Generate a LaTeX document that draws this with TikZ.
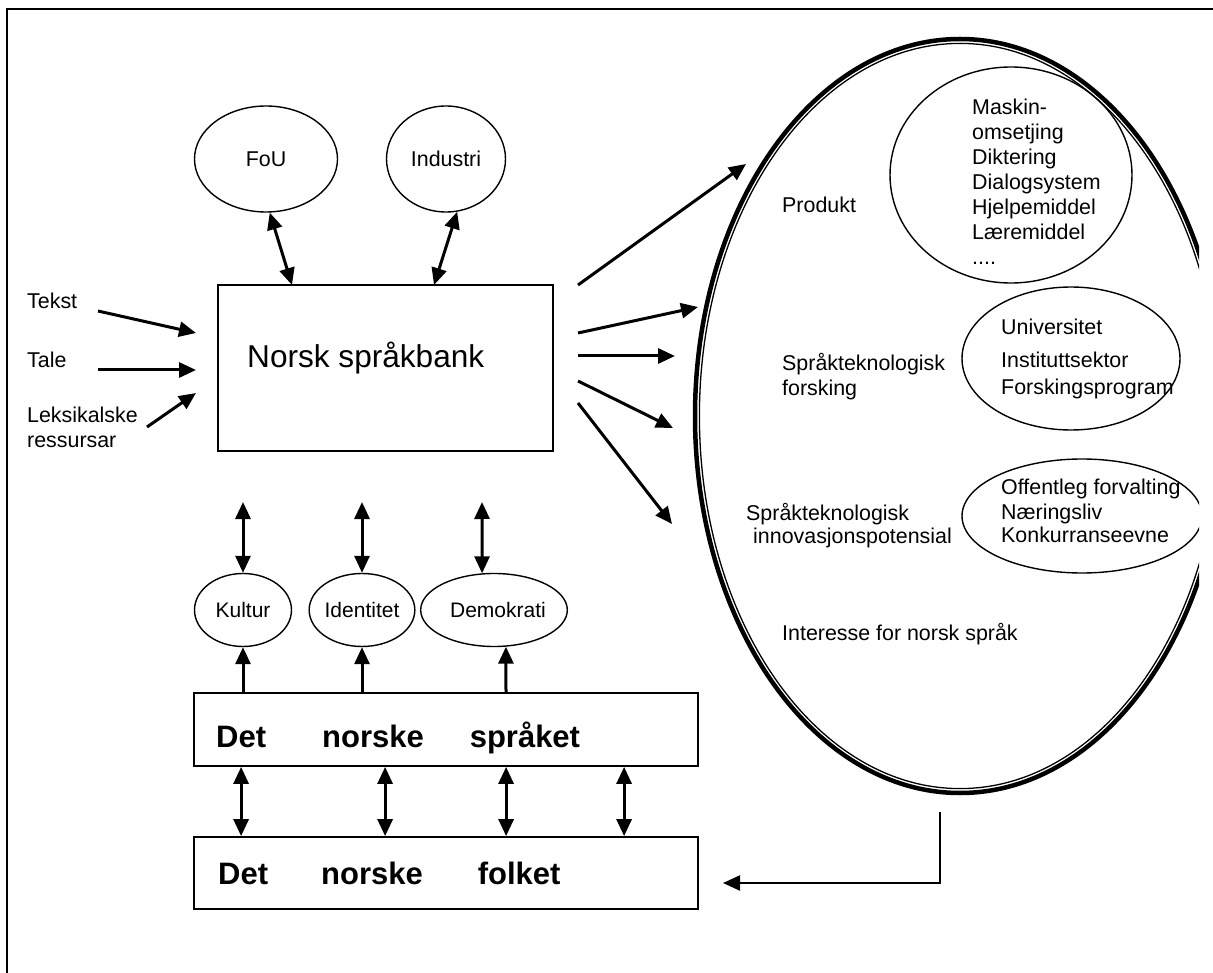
\documentclass[tikz,border=0pt]{standalone}
\usepackage{fontspec}
\setmainfont{Liberation Sans}
\usepackage{tikz}
\usetikzlibrary{shapes.geometric,calc,arrows.meta}
\newcommand{\lblsize}{\fontsize{21.4}{25}\selectfont}
\newcommand{\ovalsize}{\fontsize{21}{24}\selectfont}
\newcommand{\banksize}{\fontsize{31.6}{38}\selectfont}
\newcommand{\boldsize}{\bfseries\fontsize{31}{37}\selectfont}
\tikzset{
    txt/.style={draw=none, color=black, inner sep=0pt, anchor=base west},
    blk/.style={draw=none, color=black, inner sep=0pt, anchor=north west, align=left, font=\lblsize},
    oval/.style={draw, ellipse, line width=1.4pt, inner sep=0pt},
    bx/.style={draw, rectangle, line width=1.8pt, inner sep=0pt},
    arr/.style={line width=3pt, -{Triangle[length=17pt,width=15pt]}},
    dblarr/.style={line width=3pt, {Triangle[length=17pt,width=15pt]}-{Triangle[length=17pt,width=15pt]}}
}

\begin{document}
\begin{tikzpicture}[x=1pt, y=-1pt, font=\lblsize]
        \useasboundingbox (0,0) rectangle (1213,973);
        % frame
        \draw[line width=2pt] (7,973) -- (7,9) -- (1213,9);

        \coordinate (bt1) at (292,285);
        \coordinate (bt2) at (434,285);
        \coordinate (tekstout) at (98,311);
        \coordinate (tekstin) at (196,333);
        \coordinate (taleout) at (98,370);
        \coordinate (talein) at (196,370);
        \coordinate (leksout) at (147,427);
        \coordinate (leksin) at (196,393);
        \coordinate (o1) at (578,285);
        \coordinate (i1) at (746,164);
        \coordinate (o2) at (578,333);
        \coordinate (i2) at (698,307);
        \coordinate (o3) at (578,356);
        \coordinate (i3) at (675,356);
        \coordinate (o4) at (578,381);
        \coordinate (i4) at (673,428);
        \coordinate (o5) at (578,403);
        \coordinate (i5) at (672,524);
        \coordinate (ku) at (243,502);
        \coordinate (iu) at (362,502);
        \coordinate (du) at (482,502);
        \coordinate (ks) at (243,693);
        \coordinate (is) at (362,693);
        \coordinate (ds) at (506,693);
        \coordinate (retstart) at (940,812);
        \coordinate (retend) at (723,883);

        % Norsk spraakbank
        \node[bx, minimum width=335pt, minimum height=166pt] (bank) at (385.5,368) {};
        \node[txt, font=\banksize] (banktxt) at (247,368) {Norsk språkbank};

        % FoU and Industri
        \node[oval, minimum width=143pt, minimum height=106pt] (fou) at (266,159) {FoU};
        \node[oval, minimum width=119pt, minimum height=106pt] (industri) at (446,159) {Industri};
        \draw[dblarr] (fou.-86) -- (bt1);
        \draw[dblarr] (industri.-78) -- (bt2);

        % input
        \node[txt] (tekst) at (27,309) {Tekst};
        \node[txt] (tale) at (27,368) {Tale};
        \node[txt] (leks) at (27,423) {Leksikalske};
        \node[txt] (ressursar) at (27,447) {ressursar};
        \draw[arr] (tekstout) -- (tekstin);
        \draw[arr] (taleout) -- (talein);
        \draw[arr] (leksout) -- (leksin);

        % output
        \draw[arr] (o1) -- (i1);
        \draw[arr] (o2) -- (i2);
        \draw[arr] (o3) -- (i3);
        \draw[arr] (o4) -- (i4);
        \draw[arr] (o5) -- (i5);

        % Kultur, Identitet, Demokrati
        \node[oval, font=\ovalsize, minimum width=97pt, minimum height=73pt] (kultur) at (243,610) {Kultur};
        \node[oval, font=\ovalsize, minimum width=97pt, minimum height=73pt] (identitet) at (362,610) {Identitet};
        \node[oval, font=\ovalsize, minimum width=121pt, minimum height=73pt] (demokrati) at (494,610) {\hspace*{8pt}Demokrati};
        \draw[dblarr] (ku) -- (kultur.north);
        \draw[dblarr] (iu) -- (identitet.north);
        \draw[dblarr] (du) -- (demokrati.108);

        % Det norske spraaket
        \node[bx, minimum width=504pt, minimum height=73pt] (spraak) at (446,729.5) {};
        \node[txt, font=\boldsize] (spraaktxt) at (216,747) {Det\hspace{56pt}norske\hspace{46pt}språket};
        \draw[arr] (ks) -- (kultur.south);
        \draw[arr] (is) -- (identitet.south);
        \draw[arr] (ds) -- (demokrati.-72);

        % Det norske folket
        \node[bx, minimum width=504pt, minimum height=72pt] (folk) at (446,873) {};
        \node[txt, font=\boldsize] (folktxt) at (218,884) {Det\hspace{53pt}norske\hspace{55pt}folket};
        \draw[dblarr] ($(spraak.south west)+(48,0)$) -- ($(folk.north west)+(48,0)$);
        \draw[dblarr] ($(spraak.south west)+(192,0)$) -- ($(folk.north west)+(192,0)$);
        \draw[dblarr] ($(spraak.south west)+(313,0)$) -- ($(folk.north west)+(313,0)$);
        \draw[dblarr] ($(spraak.south west)+(431,0)$) -- ($(folk.north west)+(431,0)$);

        % big ellipse
        \begin{scope}
            \clip (0,0) rectangle (1199,973);
            \draw[line width=4.5pt] (960,416) ellipse (265 and 377);
            \draw[line width=1.3pt] (960,416) ellipse (260.6 and 372.6);
            \node[oval, minimum width=242pt, minimum height=216pt] (prodring) at (1011,175) {};
            \node[oval, minimum width=218pt, minimum height=143pt] (univring) at (1071,358.5) {};
            \node[oval, minimum width=240pt, minimum height=114pt] (offring) at (1082,516) {};
        \end{scope}

        % Labels
        \node[txt] (produkt) at (782,213) {Produkt};
        \node[blk] (maskin) at (972,98.5) {Maskin-\\omsetjing\\Diktering\\Dialogsystem\\Hjelpemiddel\\Læremiddel\\....};
        \node[blk] (sprforsk) at (782,353.5) {Språkteknologisk\\forsking};
        \node[blk] (univ) at (1001,318.5) {Universitet\\[8pt]Instituttsektor\\[2pt]Forskingsprogram};
        \node[blk] (sprinnov) at (746,503.5) {Språkteknologisk\\[-2pt]\hspace*{7pt}innovasjonspotensial};
        \node[blk] (off) at (1001,478.5) {Offentleg forvalting\\Næringsliv\\[-2pt]Konkurranseevne};
        \node[txt] (interesse) at (782,640) {Interesse for norsk språk};

        % back to the people
        \draw[line width=2.4pt, -{Triangle[length=17pt,width=15pt]}] (retstart) |- (retend);
\end{tikzpicture}
\end{document}
